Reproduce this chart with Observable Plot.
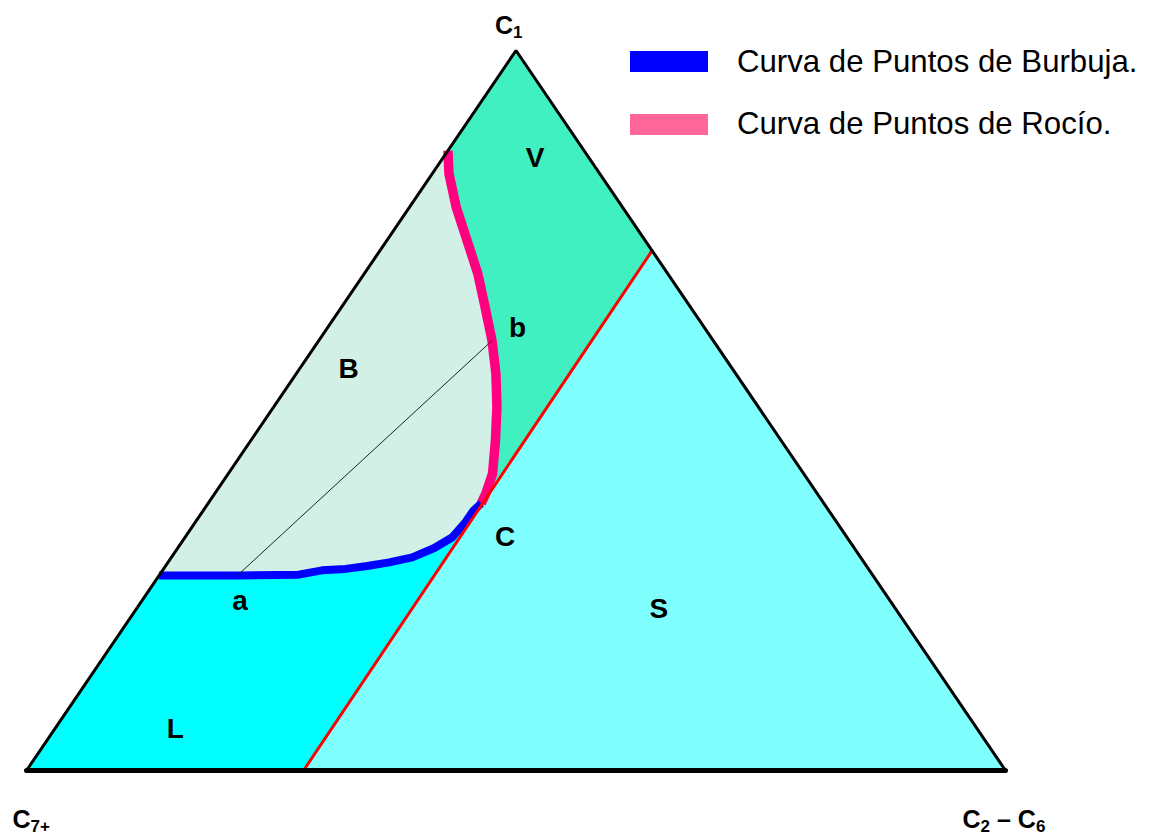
<!DOCTYPE html>
<html>
<head>
<meta charset="utf-8">
<script src="https://cdn.jsdelivr.net/npm/d3@7"></script>
<script src="https://cdn.jsdelivr.net/npm/@observablehq/plot@0.6"></script>
<style>
  html, body { margin: 0; padding: 0; background: #fff; }
  #wrap { position: relative; width: 1150px; height: 834px; font-family: "Liberation Sans", Arial, sans-serif; }
  #legend { position: absolute; left: 630px; top: 46px; }
  .item { display: flex; align-items: center; height: 31px; margin-bottom: 31.5px; }
  .sw { width: 78px; height: 21px; margin-right: 29px; }
  .lab { font-size: 31.2px; color: #000; white-space: nowrap; }
</style>
</head>
<body>
<div id="wrap"><div id="legend"></div></div>
<script>
// Ternary compositions: [C1 fraction, C2–C6 fraction]; C7+ = 1 − C1 − (C2–C6)
const vertices = [[1, 0], [0, 0], [0, 1]]; // C1 (top), C7+ (left), C2–C6 (right)
const vertexText = ["C_1", "C_{7+}", "C_2 – C_6"];

// Dew point curve (Curva de Puntos de Rocío), from the left edge down to the critical point
const dewC1  = [0.861, 0.829, 0.782, 0.736, 0.690, 0.643, 0.597, 0.551, 0.505, 0.458, 0.412, 0.384, 0.371];
const dewC26 = [0.000, 0.017, 0.048, 0.082, 0.116, 0.147, 0.177, 0.204, 0.228, 0.250, 0.270, 0.277, 0.279];

// Bubble point curve (Curva de Puntos de Burbuja), from the left edge to the critical point
const bubC1  = [0.271, 0.271, 0.272, 0.278, 0.280, 0.284, 0.289, 0.296, 0.309, 0.324, 0.345, 0.361, 0.371];
const bubC26 = [0.000, 0.080, 0.142, 0.163, 0.186, 0.206, 0.226, 0.246, 0.262, 0.273, 0.276, 0.276, 0.279];

// Boundary line of constant C2–C6 through the critical point
const splitC1  = [0, 0.722];
const splitC26 = [0.283, 0.278];

// Tie line a–b
const tieC1  = [0.271, 0.597];
const tieC26 = [0.080, 0.177];

// Region labels
const regionText = ["V", "B", "L", "S", "a", "b", "C"];
const regionC1   = [0.851, 0.558, 0.058, 0.224, 0.236, 0.615, 0.324];
const regionC26  = [0.094, 0.050, 0.123, 0.534, 0.100, 0.194, 0.327];

const regionNames  = ["V", "B", "L", "S"];
const regionColors = ["#40F0C0", "#D2F0E6", "#00FFFF", "#80FFFF"];

const legendText   = ["Curva de Puntos de Burbuja.", "Curva de Puntos de Rocío."];
const legendColors = ["#0000FF", "#FF6699"];

// ---- projection ternary → plot coordinates
const P = (c1, c26) => ({x: c26 + c1 / 2, y: c1});
const zipPts = (a, b) => a.map((v, i) => P(v, b[i]));

const dew = zipPts(dewC1, dewC26);
const bub = zipPts(bubC1, bubC26);
const split = zipPts(splitC1, splitC26);
const tie = zipPts(tieC1, tieC26);
const crit = dew[dew.length - 1];
const V = vertices.map(([a, b]) => P(a, b));

const polys = {
  V: [V[0], ...dew, split[1]],
  B: [...dew, ...bub.slice(0, -1).reverse()],
  L: [...bub, split[0], V[1]],
  S: [crit, split[1], V[2], split[0]]
};
const regionData = regionNames.flatMap((n, k) => polys[n].map(p => ({...p, region: n, color: regionColors[k]})));
const labelData = regionText.map((t, i) => ({...P(regionC1[i], regionC26[i]), t}));
const vlab = vertexText.map((t, i) => ({...V[i], t}));
const font = "Liberation Sans, Arial, sans-serif";

const chart = Plot.plot({
  width: 1150,
  height: 834,
  margin: 0,
  x: {domain: [0, 1], range: [26, 1005], axis: null},
  y: {domain: [0, 1], range: [770, 50], axis: null},
  marks: [
    Plot.line(regionData, {x: "x", y: "y", z: "region", fill: "color", stroke: "none", curve: "linear-closed"}),
    Plot.line(dew, {x: "x", y: "y", stroke: "#FF0080", strokeWidth: 9.5, strokeLinejoin: "miter", strokeLinecap: "butt"}),
    Plot.line(bub, {x: "x", y: "y", stroke: "#0000FF", strokeWidth: 8, strokeLinecap: "butt"}),
    Plot.line(split, {x: "x", y: "y", stroke: "#FF0000", strokeWidth: 3}),
    Plot.line(tie, {x: "x", y: "y", stroke: "#222", strokeWidth: 1}),
    Plot.line([V[1], V[0], V[2]], {x: "x", y: "y", stroke: "#000", strokeWidth: 3, strokeLinejoin: "miter"}),
    Plot.line([V[1], V[2]], {x: "x", y: "y", stroke: "#000", strokeWidth: 5}),
    Plot.text(labelData, {x: "x", y: "y", text: "t", fontSize: 28, fontWeight: "bold", fill: "#000", textAnchor: "middle", lineAnchor: "middle", fontFamily: font}),
    Plot.text([vlab[0]], {x: "x", y: "y", text: "t", dx: -21, dy: -17, textAnchor: "start", lineAnchor: "bottom", fontSize: 25, fontWeight: "bold", fontFamily: font}),
    Plot.text([vlab[1]], {x: "x", y: "y", text: "t", dx: -14, dy: 57, textAnchor: "start", lineAnchor: "bottom", fontSize: 25, fontWeight: "bold", fontFamily: font}),
    Plot.text([vlab[2]], {x: "x", y: "y", text: "t", dx: -43, dy: 57, textAnchor: "start", lineAnchor: "bottom", fontSize: 25, fontWeight: "bold", fontFamily: font})
  ]
});

// turn "_x" / "_{xy}" into real subscript tspans
chart.querySelectorAll("text").forEach(el => {
  const s = el.textContent;
  if (!s.includes("_")) return;
  while (el.firstChild) el.removeChild(el.firstChild);
  const parts = s.split(/(_\{[^}]*\}|_.)/).filter(p => p !== "");
  let shifted = false;
  for (const p of parts) {
    const ts = document.createElementNS("http://www.w3.org/2000/svg", "tspan");
    if (p.startsWith("_")) {
      ts.textContent = p.startsWith("_{") ? p.slice(2, -1) : p.slice(1);
      ts.setAttribute("font-size", "17");
      ts.setAttribute("dy", "4");
      shifted = true;
    } else {
      ts.textContent = p;
      if (shifted) { ts.setAttribute("dy", "-4"); shifted = false; }
    }
    el.appendChild(ts);
  }
});

document.getElementById("wrap").prepend(chart);
chart.style.position = "absolute";
chart.style.left = "0";
chart.style.top = "0";

const legend = document.getElementById("legend");
legendText.forEach((t, i) => {
  const row = document.createElement("div");
  row.className = "item";
  const sw = document.createElement("div");
  sw.className = "sw";
  sw.style.background = legendColors[i];
  const lab = document.createElement("span");
  lab.className = "lab";
  lab.textContent = t;
  row.append(sw, lab);
  legend.append(row);
});
</script>
</body>
</html>
